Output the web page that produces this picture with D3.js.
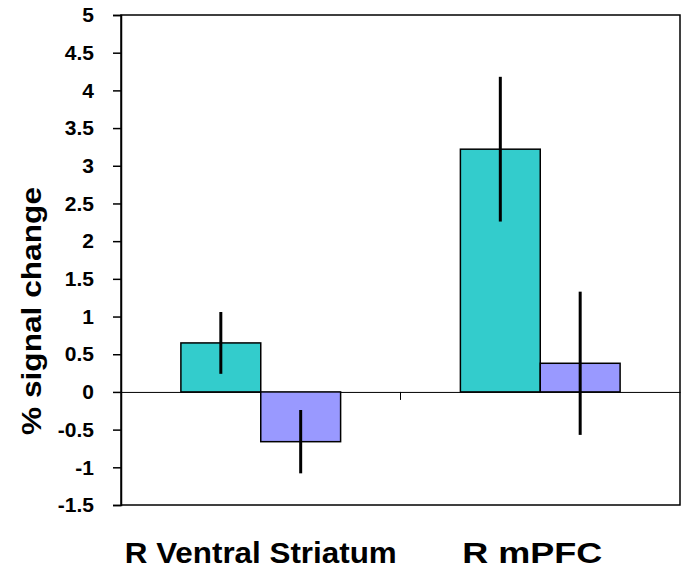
<!DOCTYPE html>
<html>
<head>
<meta charset="utf-8">
<script src="https://cdn.jsdelivr.net/npm/d3@7"></script>
<style>
  body { margin: 0; background: #fff; }
  text { font-family: Arial, "Liberation Sans", sans-serif; font-weight: bold; }
</style>
</head>
<body>
<div id="chart"></div>
<script>
const categories = ["R Ventral Striatum", "R mPFC"]
const seriesNames = ["A", "B"]
const seriesColors = ["#33CCCC", "#9999FF"]
const valuesA = [0.65, 3.22]
const valuesB = [-0.66, 0.38]
const errorsA = [0.41, 0.96]
const errorsB = [0.42, 0.95]
const yTicks = [5, 4.5, 4, 3.5, 3, 2.5, 2, 1.5, 1, 0.5, 0, -0.5, -1, -1.5]

const width = 695, height = 569
const margin = { top: 15, right: 15, bottom: 64, left: 121 }

const data = categories.map((c, i) => ({
    name: c,
    bars: [
        { s: 0, value: valuesA[i], err: errorsA[i] },
        { s: 1, value: valuesB[i], err: errorsB[i] }
    ]
}))

const x = d3.scaleBand()
    .domain(categories)
    .range([margin.left, width - margin.right])

const xInner = d3.scaleBand()
    .domain(seriesNames.map((d, i) => i))
    .range([0, x.bandwidth()])
    .paddingInner(0)
    .paddingOuter(0.75)

const y = d3.scaleLinear()
    .domain([-1.5, 5])
    .range([height - margin.bottom, margin.top])

const svg = d3.select("#chart")
    .append("svg")
    .attr("width", width)
    .attr("height", height)

// plot frame
svg.append("rect")
    .attr("x", margin.left)
    .attr("y", margin.top)
    .attr("width", width - margin.left - margin.right)
    .attr("height", height - margin.top - margin.bottom)
    .attr("fill", "none")
    .attr("stroke", "#000")
    .attr("stroke-width", 1.5)

// y axis
svg.append("g")
    .attr("transform", `translate(${margin.left},0)`)
    .call(d3.axisLeft(y).tickValues(yTicks).tickFormat(d => String(d)).tickSize(8).tickPadding(19))
    .call(g => g.select(".domain").attr("stroke-width", 1.5))
    .call(g => g.selectAll(".tick line").attr("stroke-width", 1.5))
    .call(g => g.selectAll(".tick text")
        .attr("font-size", 21)
        .attr("fill", "#000"))

// zero line with category tick
svg.append("g")
    .attr("transform", `translate(0,${y(0)})`)
    .call(d3.axisBottom(x).tickValues([]).tickSizeOuter(0))
    .call(g => g.select(".domain").attr("stroke", "#000").attr("stroke-width", 1))
    .call(g => g.append("line")
        .attr("x1", x(categories[1]))
        .attr("x2", x(categories[1]))
        .attr("y1", 0)
        .attr("y2", 8)
        .attr("stroke", "#000")
        .attr("stroke-width", 1))

// bars
const groups = svg.append("g")
    .selectAll("g")
    .data(data)
    .join("g")
    .attr("transform", d => `translate(${x(d.name)},0)`)

groups.selectAll("rect")
    .data(d => d.bars)
    .join("rect")
    .attr("x", d => xInner(d.s))
    .attr("y", d => y(Math.max(0, d.value)))
    .attr("width", xInner.bandwidth())
    .attr("height", d => Math.abs(y(d.value) - y(0)))
    .attr("fill", d => seriesColors[d.s])
    .attr("stroke", "#000")
    .attr("stroke-width", 1.5)

// error bars
groups.selectAll("line.err")
    .data(d => d.bars)
    .join("line")
    .attr("class", "err")
    .attr("x1", d => xInner(d.s) + xInner.bandwidth() / 2)
    .attr("x2", d => xInner(d.s) + xInner.bandwidth() / 2)
    .attr("y1", d => y(d.value + d.err))
    .attr("y2", d => y(d.value - d.err))
    .attr("stroke", "#000")
    .attr("stroke-width", 3)

// category labels (slightly wider than the natural font width, as in the original)
const labelShift = [0, -8]
const labelLength = [272, 140]
svg.append("g")
    .selectAll("text")
    .data(categories)
    .join("text")
    .attr("x", (d, i) => x(d) + x.bandwidth() / 2 + labelShift[i])
    .attr("y", 563)
    .attr("text-anchor", "middle")
    .attr("font-size", 29)
    .attr("textLength", (d, i) => labelLength[i])
    .attr("lengthAdjust", "spacingAndGlyphs")
    .text(d => d)

// y title
svg.append("text")
    .attr("transform", `translate(41,311) rotate(-90)`)
    .attr("text-anchor", "middle")
    .attr("font-size", 27)
    .attr("textLength", 248)
    .attr("lengthAdjust", "spacingAndGlyphs")
    .text("% signal change")
</script>
</body>
</html>
